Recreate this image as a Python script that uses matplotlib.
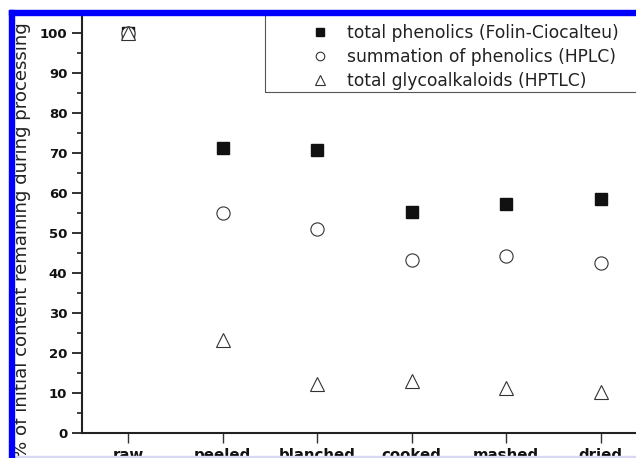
import numpy as np
import matplotlib
matplotlib.use('Agg')
import matplotlib.pyplot as plt
from matplotlib.patches import Rectangle
from matplotlib.ticker import MultipleLocator

# values (% of raw content)
stages = ['raw', 'peeled', 'blanched', 'cooked', 'mashed', 'dried']
total_phenolics = [100, 71.2, 70.8, 55.3, 57.2, 58.4]
sum_phenolics = [100, 55.1, 51.0, 43.3, 44.2, 42.4]
glycoalkaloids = [100, 23.2, 12.3, 13.0, 11.2, 10.2]
labels = ['total phenolics (Folin-Ciocalteu)',
          'summation of phenolics (HPLC)',
          'total glycoalkaloids (HPTLC)']

W, H = 636, 458
fig = plt.figure(figsize=(W / 100, H / 100), dpi=100)
# axes runs a little past the right edge (the reference is a crop)
ax = fig.add_axes([82 / W, 1 - 433 / H, 566 / W, 420 / H])

x = np.arange(len(stages))
ax.plot(x, total_phenolics, 's', ms=9, color='#111111', label=labels[0])
ax.plot(x, sum_phenolics, 'o', ms=9.5, mfc='white', mec='#333333', mew=0.8, label=labels[1])
ax.plot(x, glycoalkaloids, '^', ms=10.5, mfc='white', mec='#333333', mew=0.8, label=labels[2])

ax.set_xlim(-0.486, 5.5)
ax.set_ylim(0, 105)
ax.set_yticks(np.arange(0, 101, 10))
ax.yaxis.set_minor_locator(MultipleLocator(5))
ax.set_xticks(x)
ax.set_xticklabels(stages, fontweight='bold', fontsize=10.8, color='#111111')
plt.setp(ax.get_yticklabels(), fontweight='bold', fontsize=9.5, color='#111111')

ax.tick_params(axis='y', which='major', direction='out', length=7, width=1.3, pad=3.5, color='#222222')
ax.tick_params(axis='y', which='minor', direction='out', length=3.6, width=1.2, color='#222222')
ax.tick_params(axis='x', direction='out', length=7, width=1.0, pad=3.5, color='#333333')

for s in ['top', 'right']:
    ax.spines[s].set_visible(False)
for s in ['left', 'bottom']:
    ax.spines[s].set_linewidth(1.5)
    ax.spines[s].set_color('#222222')

leg = ax.legend(loc='upper left', bbox_to_anchor=(311.5 / W, 1 - 24 / H),
                bbox_transform=fig.transFigure, frameon=False,
                prop={'size': 12.3}, handlelength=1.0, handletextpad=1.05,
                borderpad=0, borderaxespad=0, labelspacing=0.35,
                markerscale=0.65, numpoints=1)
for t in leg.get_texts():
    t.set_color('#222222')
# legend box, wider than the text, running off the crop
fig.add_artist(Rectangle((265 / W, 1 - 92 / H), (W + 10 - 265) / W, 84 / H,
                         transform=fig.transFigure, fill=False,
                         ec='#555555', lw=0.8, zorder=5))

fig.text(27 / W, 1 - 240 / H, '% of initial content remaining during processing',
         rotation=90, rotation_mode='anchor', ha='center', va='baseline',
         fontsize=13.1, color='#222222')

# blue border of the cropped screenshot
fig.add_artist(Rectangle((0, 1 - 10 / H), 1, 10 / H, transform=fig.transFigure,
                         color='white', zorder=10))
fig.add_artist(Rectangle((0, 0), 9 / W, 1, transform=fig.transFigure,
                         color='white', zorder=10))
fig.add_artist(Rectangle((9 / W, 1 - 15 / H), 1, 5 / H, transform=fig.transFigure,
                         color='#0000ff', zorder=11))
fig.add_artist(Rectangle((9 / W, 0), 5 / W, 1 - 10 / H, transform=fig.transFigure,
                         color='#0000ff', zorder=11))
fig.add_artist(Rectangle((14 / W, 0), 1, 2.5 / H, transform=fig.transFigure,
                         color='#d8d8f5', zorder=10))

fig.savefig('out.png', dpi=100)
